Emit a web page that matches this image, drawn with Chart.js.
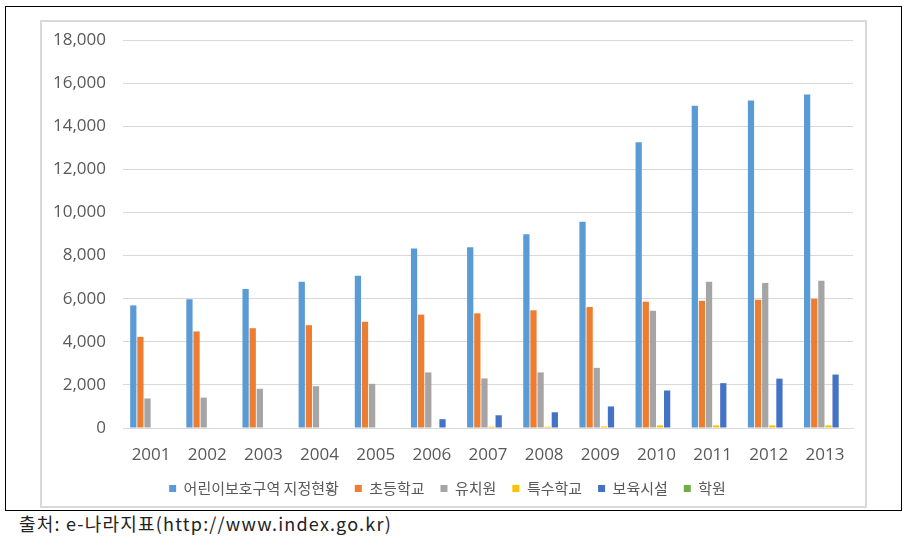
<!DOCTYPE html>
<html>
<head>
<meta charset="utf-8">
<script src="https://cdn.jsdelivr.net/npm/chart.js@4.4.1/dist/chart.umd.min.js"></script>
<style>
  body { margin: 0; background: #fff; }
  #frame { position: absolute; left: 5px; top: 6px; width: 895px; height: 503px; border: 1.5px solid #000; }
  #box { position: absolute; left: 40px; top: 20px; width: 823px; height: 484px; border: 2px solid #d9d9d9; }
  #src { position: absolute; left: 19px; top: 510px; font-family: "Noto Sans CJK KR", sans-serif; font-size: 18px; letter-spacing: 1.2px; color: #222; }
</style>
</head>
<body>
<div id="frame"></div>
<div id="box"><canvas id="myChart" width="823" height="484"></canvas></div>
<div id="src">출처: e-나라지표(http://www.index.go.kr)</div>
<script>
var years = ["2001", "2002", "2003", "2004", "2005", "2006", "2007", "2008", "2009", "2010", "2011", "2012", "2013"];
var zoneTotal = [5690, 5970, 6450, 6790, 7060, 8330, 8390, 8990, 9570, 13260, 14950, 15190, 15470];
var elementary = [4230, 4480, 4630, 4770, 4930, 5260, 5320, 5460, 5610, 5860, 5900, 5950, 6000];
var kinder = [1370, 1410, 1820, 1940, 2050, 2580, 2300, 2580, 2790, 5440, 6780, 6730, 6830];
var special = [0, 0, 0, 0, 0, 0, 60, 60, 70, 120, 120, 120, 120];
var nursery = [0, 0, 0, 0, 0, 410, 590, 730, 1000, 1740, 2080, 2290, 2480];
var academy = [0, 0, 0, 0, 0, 0, 0, 0, 0, 0, 0, 0, 0];

var font = "'Open Sans', 'Noto Sans', sans-serif";

new Chart("myChart", {
  type: "bar",
  data: {
    labels: years,
    datasets: [
      { label: "어린이보호구역 지정현황", data: zoneTotal, backgroundColor: "#5b9bd5" },
      { label: "초등학교", data: elementary, backgroundColor: "#ed7d31" },
      { label: "유치원", data: kinder, backgroundColor: "#a5a5a5" },
      { label: "특수학교", data: special, backgroundColor: "#ffc000" },
      { label: "보육시설", data: nursery, backgroundColor: "#4472c4" },
      { label: "학원", data: academy, backgroundColor: "#70ad47" },
    ],
  },
  options: {
    responsive: false,
    animation: false,
    layout: { padding: { left: 0, right: 12, top: 18, bottom: 0 } },
    datasets: { bar: { categoryPercentage: 0.76, barPercentage: 0.88 } },
    plugins: {
      tooltip: { enabled: false },
      legend: {
        position: "bottom",
        labels: {
          boxWidth: 7,
          boxHeight: 7,
          padding: 16,
          color: "#595959",
          font: { family: "'Noto Sans CJK KR', sans-serif", size: 15 },
        },
      },
    },
    scales: {
      x: {
        grid: { display: false, drawTicks: false },
        border: { color: "#d9d9d9" },
        ticks: { color: "#595959", padding: 17, font: { family: font, size: 17 } },
        afterFit: function (scale) { scale.height = 37; },
      },
      y: {
        min: 0,
        max: 18000,
        grid: { color: "#d9d9d9", drawTicks: false },
        border: { display: false },
        ticks: {
          stepSize: 2000,
          color: "#595959",
          padding: 17,
          font: { family: font, size: 17 },
          callback: function (v) { return v.toLocaleString("en-US"); },
        },
        afterFit: function (scale) {
          scale.width = 81;
          scale.paddingTop = 0;
          scale.paddingBottom = 0;
        },
      },
    },
  },
});
</script>
</body>
</html>
